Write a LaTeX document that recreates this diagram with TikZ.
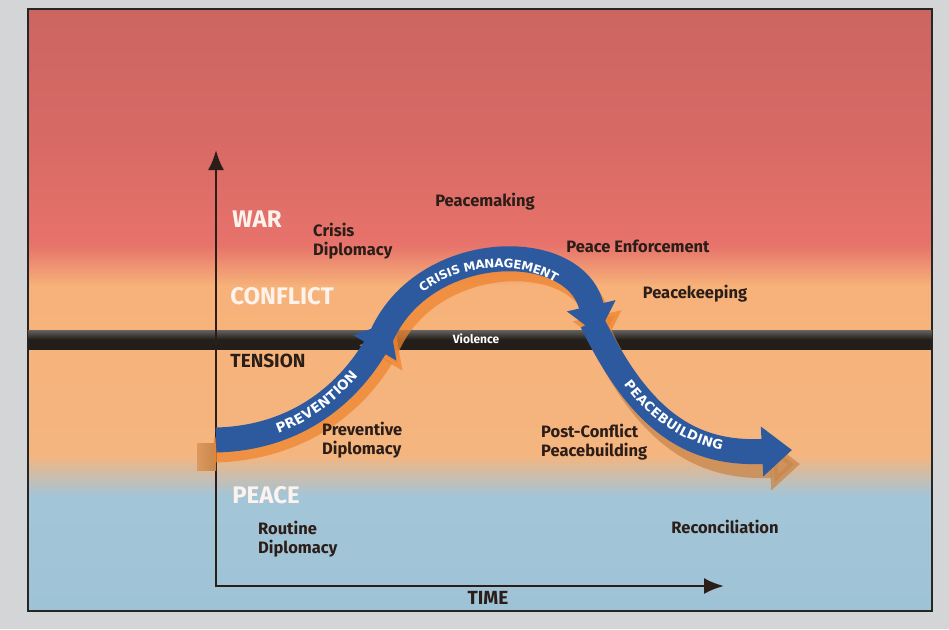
\documentclass[tikz,border=0pt]{standalone}
\usepackage{fontspec}
\setmainfont{Fira Sans}
\newfontfamily\bandfont{DejaVu Sans}
\usetikzlibrary{arrows.meta,decorations.text}

\begin{document}
\begin{tikzpicture}[x=1pt,y=-1pt,
    lbl/.style={font=\fontsize{16.5}{18.5}\selectfont\bfseries, text=pc_ink, inner sep=0pt, align=left},
    zone/.style={font=\fontsize{24}{24}\selectfont\bfseries, text=pc_white, inner sep=0pt},
    capslbl/.style={font=\fontsize{19}{20}\selectfont\bfseries, text=pc_ink, inner sep=0pt},
    band/.style={line width=25pt, draw=pc_blue, -{Triangle[width=48pt,length=30pt]}},
    bandshadow/.style={line width=25pt, draw=#1, opacity=0.75, -{Triangle[width=48pt,length=30pt]}},
    axis/.style={line width=2.6pt, draw=pc_ink, -{Latex[width=16pt,length=20pt]}},
    bandtext/.style 2 args={decorate, decoration={text along path, text align=center, raise=-4.6pt,
        text={|\bandfont\fontsize{#1}{#1}\selectfont\bfseries\color{white}|#2}}}
  ]
    \definecolor{pc_page}{HTML}{D4D5D7}
    \definecolor{pc_ink}{HTML}{2B1D18}
    \definecolor{pc_white}{HTML}{FDF3EC}
    \definecolor{pc_blue}{HTML}{2D5A9E}
    \definecolor{pc_bar}{HTML}{231E1A}
    \definecolor{pc_orange}{HTML}{EE8530}
    \definecolor{pc_tan}{HTML}{C9864A}
    \definecolor{pc_redA}{HTML}{CC6561}
    \definecolor{pc_redB}{HTML}{D96A65}
    \definecolor{pc_redC}{HTML}{E7736B}
    \definecolor{pc_orA}{HTML}{F6B279}
    \definecolor{pc_orB}{HTML}{F5B57F}
    \definecolor{pc_blueA}{HTML}{A3C5D8}
    \definecolor{pc_blueB}{HTML}{9FC3D6}

    % page and gradient panel
    \fill[pc_page] (0,0) rectangle (949,629);
    \shade[top color=pc_redA, bottom color=pc_redB] (28,9) rectangle (932,151);
    \shade[top color=pc_redB, bottom color=pc_redC] (28,150) rectangle (932,246);
    \shade[top color=pc_redC, bottom color=pc_orA] (28,245) rectangle (932,286);
    \shade[top color=pc_orA, bottom color=pc_orB] (28,285) rectangle (932,456);
    \shade[top color=pc_orB, bottom color=pc_blueA] (28,455) rectangle (932,496);
    \shade[top color=pc_blueA, bottom color=pc_blueB] (28,495) rectangle (932,611);
    \draw[line width=1.5pt, black!85] (28,9) rectangle (932,611);

    % violence bar
    \shade[top color=pc_bar!70!white, bottom color=pc_bar, middle color=pc_bar] (28,330) rectangle (932,349);
    \node[font=\fontsize{12}{12}\selectfont\bfseries, text=white] (violence) at (476,339) {Violence};

    % axes
    \coordinate (origin) at (216,586);
    \coordinate (ytip) at (216,150);
    \coordinate (xtip) at (724,586);
    \draw[axis] (216,587.3) -- (ytip);
    \draw[axis] (origin) -- (xtip);

    % shadows
    \shade[left color=pc_tan!60!pc_orB, right color=pc_tan] (197,443) rectangle (216,470);
    \draw[bandshadow=pc_orange] (214,450) .. controls (302,448) and (356,400) .. (396,332);
    \draw[bandshadow=pc_orange] (384,355) .. controls (421,250) and (581,245) .. (604,345);
    \draw[bandshadow=pc_tan] (600,335) .. controls (646,432) and (698,469) .. (800,464);

    % process arrows
    \draw[band] (592,322) .. controls (640,420) and (690,455) .. (792,450);
    \path[bandtext={13}{PEACEBUILDING}] (592,322) .. controls (640,420) and (690,455) .. (792,450);
    \draw[band] (378,345) .. controls (415,240) and (575,235) .. (598,335);
    \path[bandtext={12}{CRISIS MANAGEMENT}] (378,345) .. controls (415,240) and (575,235) .. (598,335);
    \draw[band] (216,440) .. controls (300,438) and (350,390) .. (390,322);
    \path[bandtext={13.5}{PREVENTION}] (216,440) .. controls (300,438) and (350,390) .. (390,322);

    % zone labels
    \node[zone] (war) at (257,219) {WAR};
    \node[zone] (conflict) at (282,296) {CONFLICT};
    \node[zone] (peace) at (266,495) {PEACE};
    \node[capslbl] (tension) at (268,361) {TENSION};
    \node[capslbl] (time) at (488,598) {TIME};

    % activity labels
    \node[lbl, anchor=west] (crisisdip) at (313,241) {Crisis\\Diplomacy};
    \node[lbl] (peacemaking) at (485,202) {Peacemaking};
    \node[lbl] (enforcement) at (638,246) {Peace Enforcement};
    \node[lbl] (keeping) at (695,294) {Peacekeeping};
    \node[lbl, anchor=west] (prevdip) at (322,440) {Preventive\\Diplomacy};
    \node[lbl, anchor=west] (postconflict) at (541,442) {Post-Conflict\\Peacebuilding};
    \node[lbl, anchor=west] (routine) at (258,539) {Routine\\Diplomacy};
    \node[lbl] (reconcile) at (725,527) {Reconciliation};
\end{tikzpicture}
\end{document}
